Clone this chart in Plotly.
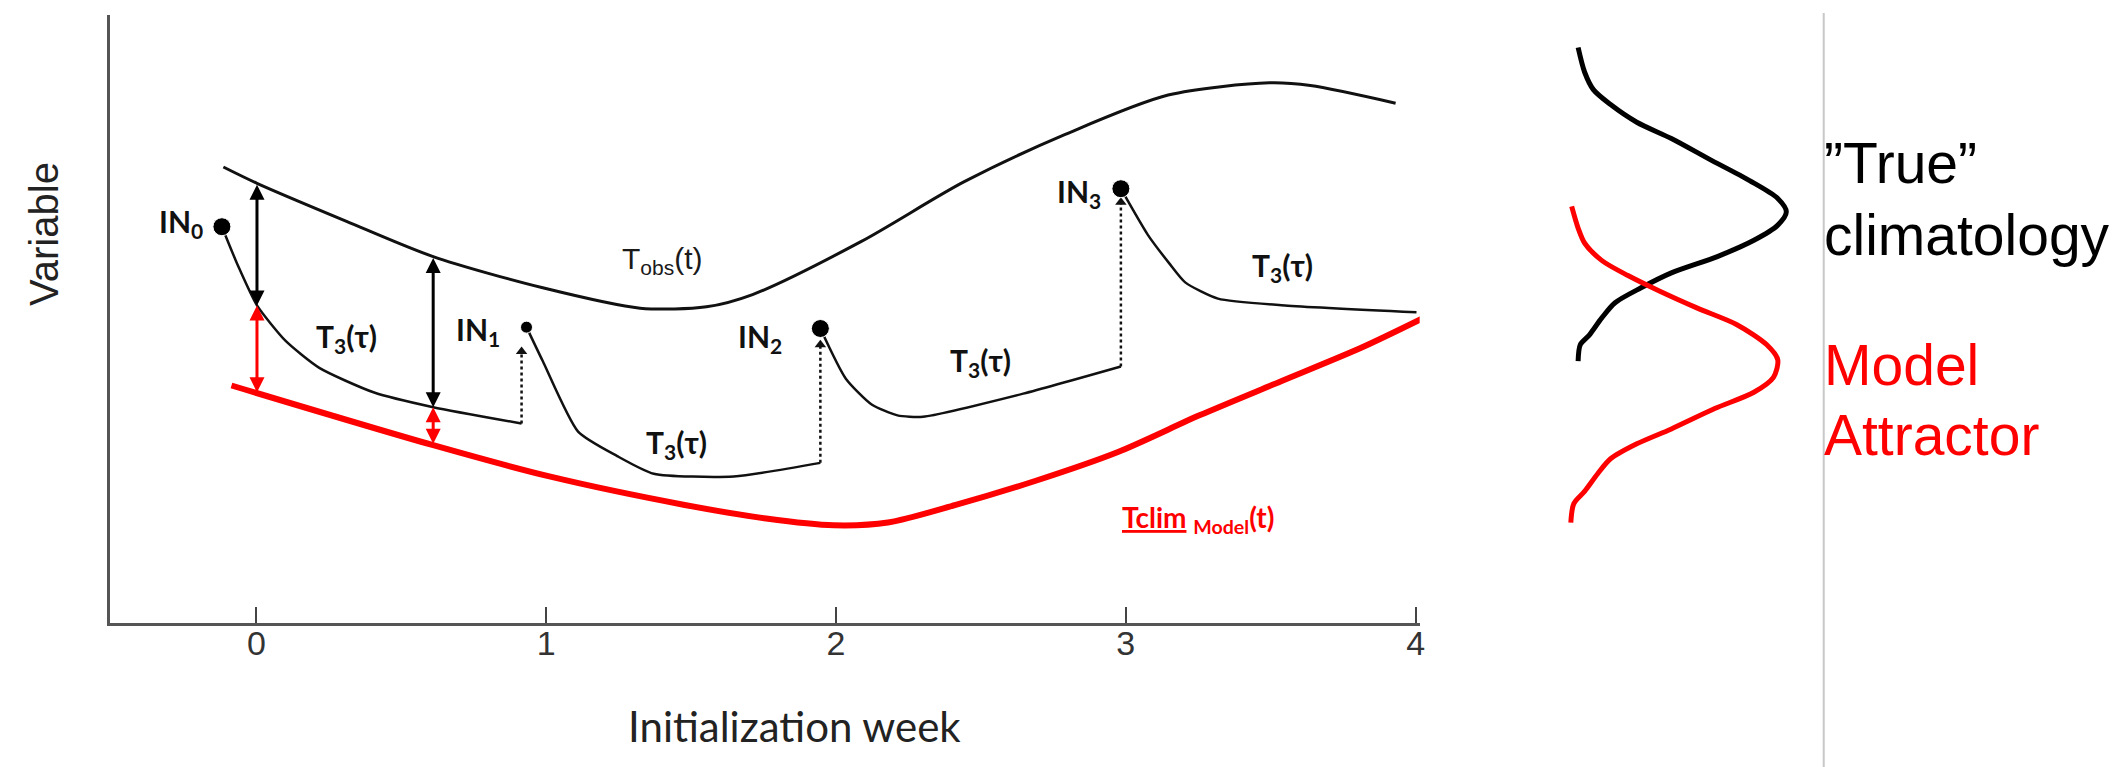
import plotly.graph_objects as go

# ---------------- data ----------------
weeks = [0, 1, 2, 3, 4]
week_labels = ["0", "1", "2", "3", "4"]

# observed trajectory T_obs(t)
tobs_x = [-0.114, 0.002, 0.311, 0.610, 0.988, 1.324, 1.553, 1.712, 2.086, 2.441, 2.791, 3.146, 3.496, 3.637, 3.931]
tobs_y = [3.36, 3.24, 2.96, 2.70, 2.47, 2.32, 2.33, 2.42, 2.81, 3.25, 3.60, 3.89, 3.98, 3.96, 3.83]

# model climatology Tclim_Model(t)
tclim_x = [-0.086, 0.610, 1.011, 1.478, 1.759, 1.992, 2.179, 2.413, 2.692, 2.973, 3.254, 3.534, 3.814, 4.029]
tclim_y = [1.75, 1.31, 1.08, 0.87, 0.77, 0.72, 0.74, 0.87, 1.05, 1.26, 1.53, 1.78, 2.03, 2.25]

# forecasts T3(tau) started from IN0..IN3
fc0_x = [-0.119, -0.063, 0.002, 0.100, 0.217, 0.404, 0.610, 0.915]
fc0_y = [2.92, 2.63, 2.34, 2.08, 1.88, 1.70, 1.59, 1.47]
fc1_x = [0.932, 0.988, 1.110, 1.245, 1.371, 1.647, 1.946]
fc1_y = [2.18, 1.93, 1.41, 1.23, 1.10, 1.08, 1.18]
fc2_x = [1.946, 2.034, 2.123, 2.212, 2.300, 2.646, 2.983]
fc2_y = [2.17, 1.80, 1.61, 1.53, 1.52, 1.69, 1.89]
fc3_x = [2.983, 3.076, 3.150, 3.205, 3.318, 3.549, 4.003]
fc3_y = [3.20, 2.86, 2.65, 2.51, 2.39, 2.34, 2.29]

init_labels = ["IN<sub>0</sub>", "IN<sub>1</sub>", "IN<sub>2</sub>", "IN<sub>3</sub>"]
init_label_x = [-0.26, 0.765, 1.738, 2.84]
init_label_y = [2.95, 2.15, 2.10, 3.17]
init_size = [18, 12, 18, 18]

# dotted re-initialisation jumps
jump_x = [0.915, 1.946, 2.983]
jump_bottom = [1.47, 1.18, 1.89]
jump_top = [2.00, 2.05, 3.10]

# error arrows (obs - forecast in black, forecast - climatology in red)
err_x = [0.002, 0.610]
err_obs = [3.24, 2.70]
err_fc = [2.34, 1.59]
err_clim = [1.69, 1.31]

# forecast labels
t3_label_x = [0.31, 1.45, 2.50, 3.54]
t3_label_y = [2.10, 1.32, 1.92, 2.62]

# distributions (density vs variable)
true_dens = [0.032, 0.062, 0.103, 0.183, 0.305, 0.466, 0.640, 0.830, 0.960, 1.001,
             0.960, 0.850, 0.680, 0.466, 0.325, 0.204, 0.143, 0.083, 0.042, 0.032]
true_var = [4.24, 4.06, 3.93, 3.82, 3.69, 3.57, 3.42, 3.26, 3.13, 3.03,
             2.93, 2.82, 2.70, 2.58, 2.47, 2.36, 2.25, 2.12, 2.05, 1.93]
model_dens = [0.002, 0.032, 0.062, 0.143, 0.264, 0.405, 0.587, 0.769, 0.910, 0.961,
              0.941, 0.850, 0.668, 0.466, 0.305, 0.183, 0.123, 0.062, 0.012, -0.002]
model_var = [3.07, 2.91, 2.80, 2.67, 2.56, 2.45, 2.32, 2.20, 2.05, 1.94,
             1.81, 1.70, 1.58, 1.43, 1.32, 1.21, 1.10, 0.97, 0.88, 0.74]

# ---------------- figure ----------------
W, H = 2128, 767
RED = "#ff0000"
LBL = "Lato, 'Open Sans', sans-serif"
ARIAL = "'Liberation Sans', Arial, sans-serif"

fig = go.Figure()

fig.add_trace(go.Scatter(x=tobs_x, y=tobs_y, mode="lines",
                         line=dict(color="#111", width=3, shape="spline", smoothing=0.8)))
fig.add_trace(go.Scatter(x=tclim_x, y=tclim_y, mode="lines",
                         line=dict(color=RED, width=6, shape="spline", smoothing=0.8)))

for sx, sy in [(fc0_x, fc0_y), (fc1_x, fc1_y), (fc2_x, fc2_y), (fc3_x, fc3_y)]:
    fig.add_trace(go.Scatter(x=sx, y=sy, mode="lines",
                             line=dict(color="#111", width=2.5, shape="spline", smoothing=0.6)))

# dotted jumps
for jx, jb, jt in zip(jump_x, jump_bottom, jump_top):
    fig.add_trace(go.Scatter(x=[jx, jx], y=[jb, jt], mode="lines",
                             line=dict(color="#111", width=2.5, dash="dot")))
fig.add_trace(go.Scatter(x=jump_x, y=jump_top, mode="markers",
                         marker=dict(symbol="triangle-up", size=10, color="#111")))

# initial condition dots
fig.add_trace(go.Scatter(x=[fc0_x[0], fc1_x[0], fc2_x[0], fc3_x[0]],
                         y=[fc0_y[0], fc1_y[0], fc2_y[0], fc3_y[0]],
                         mode="markers", marker=dict(size=init_size, color="#000", opacity=1)))

# distributions in right panel (shared y)
fig.add_trace(go.Scatter(x=true_dens, y=true_var, xaxis="x2", yaxis="y", mode="lines",
                         line=dict(color="#000", width=5, shape="spline", smoothing=0.8)))
fig.add_trace(go.Scatter(x=model_dens, y=model_var, xaxis="x2", yaxis="y", mode="lines",
                         line=dict(color=RED, width=5, shape="spline", smoothing=0.8)))

annotations = []
# error arrows
for ex, eo, ef, ec in zip(err_x, err_obs, err_fc, err_clim):
    annotations.append(dict(x=ex, y=ef, ax=ex, ay=eo, xref="x", yref="y", axref="x", ayref="y",
                            showarrow=True, arrowhead=2, startarrowhead=2, arrowside="end+start",
                            arrowsize=1, arrowwidth=3, arrowcolor="#000", text=""))
    annotations.append(dict(x=ex, y=ef, ax=ex, ay=ec, xref="x", yref="y", axref="x", ayref="y",
                            showarrow=True, arrowhead=2, startarrowhead=2, arrowside="end+start",
                            arrowsize=1, arrowwidth=3, arrowcolor=RED, text=""))

for t, lx, ly in zip(init_labels, init_label_x, init_label_y):
    annotations.append(dict(x=lx, y=ly, xref="x", yref="y", text="<b>" + t + "</b>", showarrow=False,
                            xanchor="center", yanchor="middle",
                            font=dict(family=LBL, size=30, color="#111")))
for lx, ly in zip(t3_label_x, t3_label_y):
    annotations.append(dict(x=lx, y=ly, xref="x", yref="y", text="<b>T<sub>3</sub>(τ)</b>", showarrow=False,
                            xanchor="center", yanchor="middle",
                            font=dict(family=LBL, size=30, color="#111")))
annotations.append(dict(x=1.40, y=2.67, xref="x", yref="y", text="T<sub>obs</sub>(t)", showarrow=False,
                        xanchor="center", yanchor="middle",
                        font=dict(family=ARIAL, size=30, color="#1a1a1a")))
annotations.append(dict(x=3.25, y=0.77, xref="x", yref="y",
                        text="<b><span style='text-decoration:underline wavy'>Tclim</span> <sub>Model</sub>(t)</b>",
                        showarrow=False, xanchor="center", yanchor="middle",
                        font=dict(family=LBL, size=28, color=RED)))

# axis titles
annotations.append(dict(x=36 / W, y=1 - 226 / H, xref="paper", yref="paper", text="Variable",
                        textangle=-90, showarrow=False, xanchor="center", yanchor="middle",
                        font=dict(family=ARIAL, size=40, color="#222")))
annotations.append(dict(x=788 / W, y=1 - 718 / H, xref="paper", yref="paper", text="Initialization week",
                        showarrow=False, xanchor="center", yanchor="middle",
                        font=dict(family=LBL, size=42, color="#222")))

# right-hand legend text
for txt, yc, col in [("”True”", 155, "#000"), ("climatology", 227, "#000"),
                     ("Model", 357, RED), ("Attractor", 427, RED)]:
    annotations.append(dict(x=1818 / W, y=1 - yc / H, xref="paper", yref="paper", text=txt,
                            xanchor="left", yanchor="middle", showarrow=False,
                            font=dict(family=ARIAL, size=57, color=col)))

fig.update_layout(
    width=W, height=H, autosize=False,
    margin=dict(l=0, r=0, t=0, b=0),
    paper_bgcolor="white", plot_bgcolor="white",
    showlegend=False,
    xaxis=dict(domain=[102 / W, 1415 / W], range=[-0.506, 4.014],
               tickvals=weeks, ticktext=week_labels, ticks="inside", ticklen=16, tickwidth=2,
               tickcolor="#444", showline=True, linecolor="#555", linewidth=3,
               showgrid=False, zeroline=False, ticklabelstandoff=-12,
               tickfont=dict(family=ARIAL, size=34, color="#333"), anchor="y"),
    yaxis=dict(domain=[1 - 615 / H, 1 - 7 / H], range=[0, 4.48],
               showline=True, linecolor="#555", linewidth=3, showticklabels=False,
               ticks="", showgrid=False, zeroline=False, anchor="x"),
    xaxis2=dict(domain=[1540 / W, 1820 / W], range=[-0.125, 1.175], visible=False, anchor="y"),
    annotations=annotations,
    shapes=[dict(type="line", xref="paper", yref="paper", x0=1820 / W, x1=1820 / W,
                 y0=0, y1=1 - 5 / H, line=dict(color="#c8c8c8", width=2))],
)

fig.write_html("out.html")
